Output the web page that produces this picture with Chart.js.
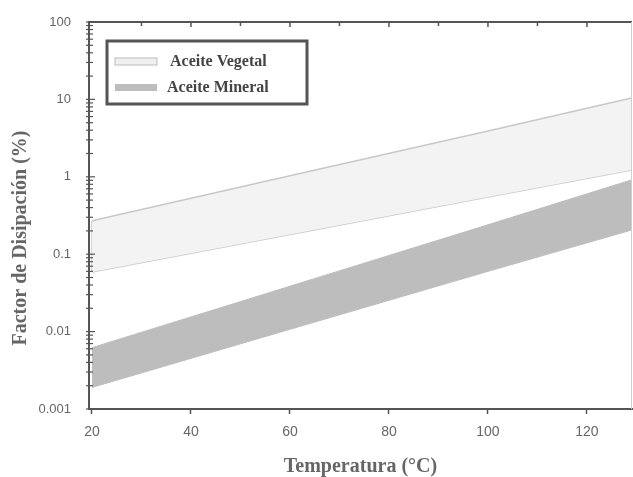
<!DOCTYPE html>
<html>
<head>
<meta charset="utf-8">
<script src="https://cdn.jsdelivr.net/npm/chart.js@4.4.0/dist/chart.umd.min.js"></script>
<style>
html, body { margin: 0; padding: 0; background: #fff; }
#wrap { width: 633px; height: 477px; }
</style>
</head>
<body>
<div id="wrap"><canvas id="chart"></canvas></div>
<script>
// values (y in %, log scale)
var temps = [20, 60, 100, 129];
var vegetalHigh = [0.27, 1.03, 3.9, 10.4];
var vegetalLow = [0.059, 0.18, 0.55, 1.22];
var mineralHigh = [0.0062, 0.0386, 0.24, 0.91];
var mineralLow = [0.0019, 0.0107, 0.060, 0.205];
var xTicks = [20, 40, 60, 80, 100, 120];
var yTicks = [0.001, 0.01, 0.1, 1, 10, 100];
var legendLabels = ['Aceite Vegetal', 'Aceite Mineral'];
var xTitle = 'Temperatura (°C)';
var yTitle = 'Factor de Disipación (%)';

var axisColor = '#555';
var textColor = '#666';

function pts(ys) {
    return temps.map(function (t, i) { return { x: t, y: ys[i] }; });
}

// frame, inner ticks, legend box and y title
var extras = {
    id: 'extras',
    afterDatasetsDraw: function (chart) {
        var ctx = chart.ctx, a = chart.chartArea;
        var xs = chart.scales.x, ys = chart.scales.y;
        ctx.save();
        ctx.strokeStyle = axisColor;
        ctx.lineWidth = 2;
        ctx.beginPath();
        ctx.moveTo(a.left - 1, a.top);
        ctx.lineTo(a.right, a.top);
        ctx.stroke();
        ctx.strokeStyle = '#cfcfcf';
        ctx.lineWidth = 1;
        ctx.beginPath();
        ctx.moveTo(a.right - 0.5, a.top);
        ctx.lineTo(a.right - 0.5, a.bottom);
        ctx.stroke();

        // top ticks every 10
        ctx.strokeStyle = axisColor;
        ctx.lineWidth = 1.5;
        for (var v = 30; v <= 120; v += 10) {
            var px = xs.getPixelForValue(v);
            ctx.beginPath();
            ctx.moveTo(px, a.top);
            ctx.lineTo(px, a.top + (v % 20 === 0 ? 5 : 4));
            ctx.stroke();
        }
        // y ticks, across the axis line
        ctx.lineWidth = 1.2;
        for (var d = 0; d < yTicks.length - 1; d++) {
            for (var m = 1; m <= 9; m++) {
                var py = ys.getPixelForValue(yTicks[d] * m);
                ctx.beginPath();
                ctx.moveTo(a.left - 3, py);
                ctx.lineTo(a.left + (m === 1 ? 6 : 4), py);
                ctx.stroke();
            }
        }
        var pTop = ys.getPixelForValue(yTicks[yTicks.length - 1]);
        ctx.beginPath();
        ctx.moveTo(a.left - 3, pTop);
        ctx.lineTo(a.left + 6, pTop);
        ctx.stroke();

        // legend
        var lx = a.left + 18, ly = a.top + 19;
        ctx.fillStyle = '#fff';
        ctx.fillRect(lx, ly, 200, 63);
        ctx.lineWidth = 3;
        ctx.strokeStyle = axisColor;
        ctx.strokeRect(lx, ly, 200, 63);

        ctx.fillStyle = '#efefef';
        ctx.fillRect(lx + 8, ly + 17, 42, 7);
        ctx.lineWidth = 1.2;
        ctx.strokeStyle = '#c6c6c6';
        ctx.strokeRect(lx + 8, ly + 17, 42, 7);
        ctx.fillStyle = '#bdbdbd';
        ctx.fillRect(lx + 8, ly + 43, 42, 7);

        ctx.fillStyle = '#444';
        ctx.font = 'bold 16px "Liberation Serif", "Times New Roman", serif';
        ctx.textBaseline = 'middle';
        ctx.textAlign = 'left';
        ctx.fillText(legendLabels[0], lx + 63, ly + 21);
        ctx.fillText(legendLabels[1], lx + 60, ly + 47);

        // y title
        ctx.translate(21, 238);
        ctx.rotate(-Math.PI / 2);
        ctx.textAlign = 'center';
        ctx.fillStyle = textColor;
        ctx.font = 'bold 20px "Liberation Serif", "Times New Roman", serif';
        ctx.fillText(yTitle, 0, 0);
        ctx.restore();
    }
};

var ctx = document.getElementById('chart').getContext('2d');
var chart = new Chart(ctx, {
    type: 'line',
    data: {
        datasets: [{
            label: legendLabels[0],
            data: pts(vegetalHigh),
            borderColor: '#c8c8c8',
            borderWidth: 1.5,
            backgroundColor: '#f3f3f3',
            fill: '+1',
            pointRadius: 0
        }, {
            label: legendLabels[0] + ' min',
            data: pts(vegetalLow),
            borderColor: '#c8c8c8',
            borderWidth: 1.5,
            fill: false,
            pointRadius: 0
        }, {
            label: legendLabels[0] + ' edge',
            data: [{ x: temps[0], y: vegetalLow[0] }, { x: temps[0], y: vegetalHigh[0] }],
            borderColor: '#c8c8c8',
            borderWidth: 1.5,
            fill: false,
            pointRadius: 0
        }, {
            label: legendLabels[1],
            data: pts(mineralHigh),
            borderColor: '#bdbdbd',
            borderWidth: 1,
            backgroundColor: '#bdbdbd',
            fill: '+1',
            pointRadius: 0
        }, {
            label: legendLabels[1] + ' min',
            data: pts(mineralLow),
            borderColor: '#bdbdbd',
            borderWidth: 1,
            fill: false,
            pointRadius: 0
        }]
    },
    options: {
        responsive: true,
        maintainAspectRatio: false,
        animation: false,
        layout: { padding: { top: 22, right: 1, left: 0, bottom: 0 } },
        plugins: {
            legend: { display: false },
            tooltip: { enabled: false }
        },
        scales: {
            x: {
                type: 'linear',
                min: 19.4,
                max: 129.1,
                afterBuildTicks: function (s) {
                    s.ticks = xTicks.map(function (v) { return { value: v }; });
                },
                afterFit: function (s) { s.height = 68; },
                grid: {
                    display: true,
                    drawOnChartArea: false,
                    drawTicks: true,
                    tickLength: 5,
                    tickColor: axisColor,
                    tickWidth: 1.5
                },
                border: { display: true, color: axisColor, width: 2 },
                ticks: {
                    padding: 10,
                    color: textColor,
                    font: { family: '"Liberation Sans", Arial, sans-serif', size: 14 }
                },
                title: {
                    display: true,
                    text: xTitle,
                    color: textColor,
                    padding: { top: 0, bottom: 0 },
                    font: { family: '"Liberation Serif", "Times New Roman", serif', size: 20, weight: 'bold', lineHeight: 1 }
                }
            },
            y: {
                type: 'logarithmic',
                min: 0.001,
                max: 100,
                afterBuildTicks: function (s) {
                    s.ticks = yTicks.map(function (v) { return { value: v }; });
                },
                afterFit: function (s) { s.width = 89; },
                grid: { display: false },
                border: { display: true, color: axisColor, width: 2 },
                ticks: {
                    padding: 10,
                    color: textColor,
                    font: { family: '"Liberation Sans", Arial, sans-serif', size: 13 },
                    callback: function (v) { return String(v); }
                }
            }
        }
    },
    plugins: [extras]
});
</script>
</body>
</html>
